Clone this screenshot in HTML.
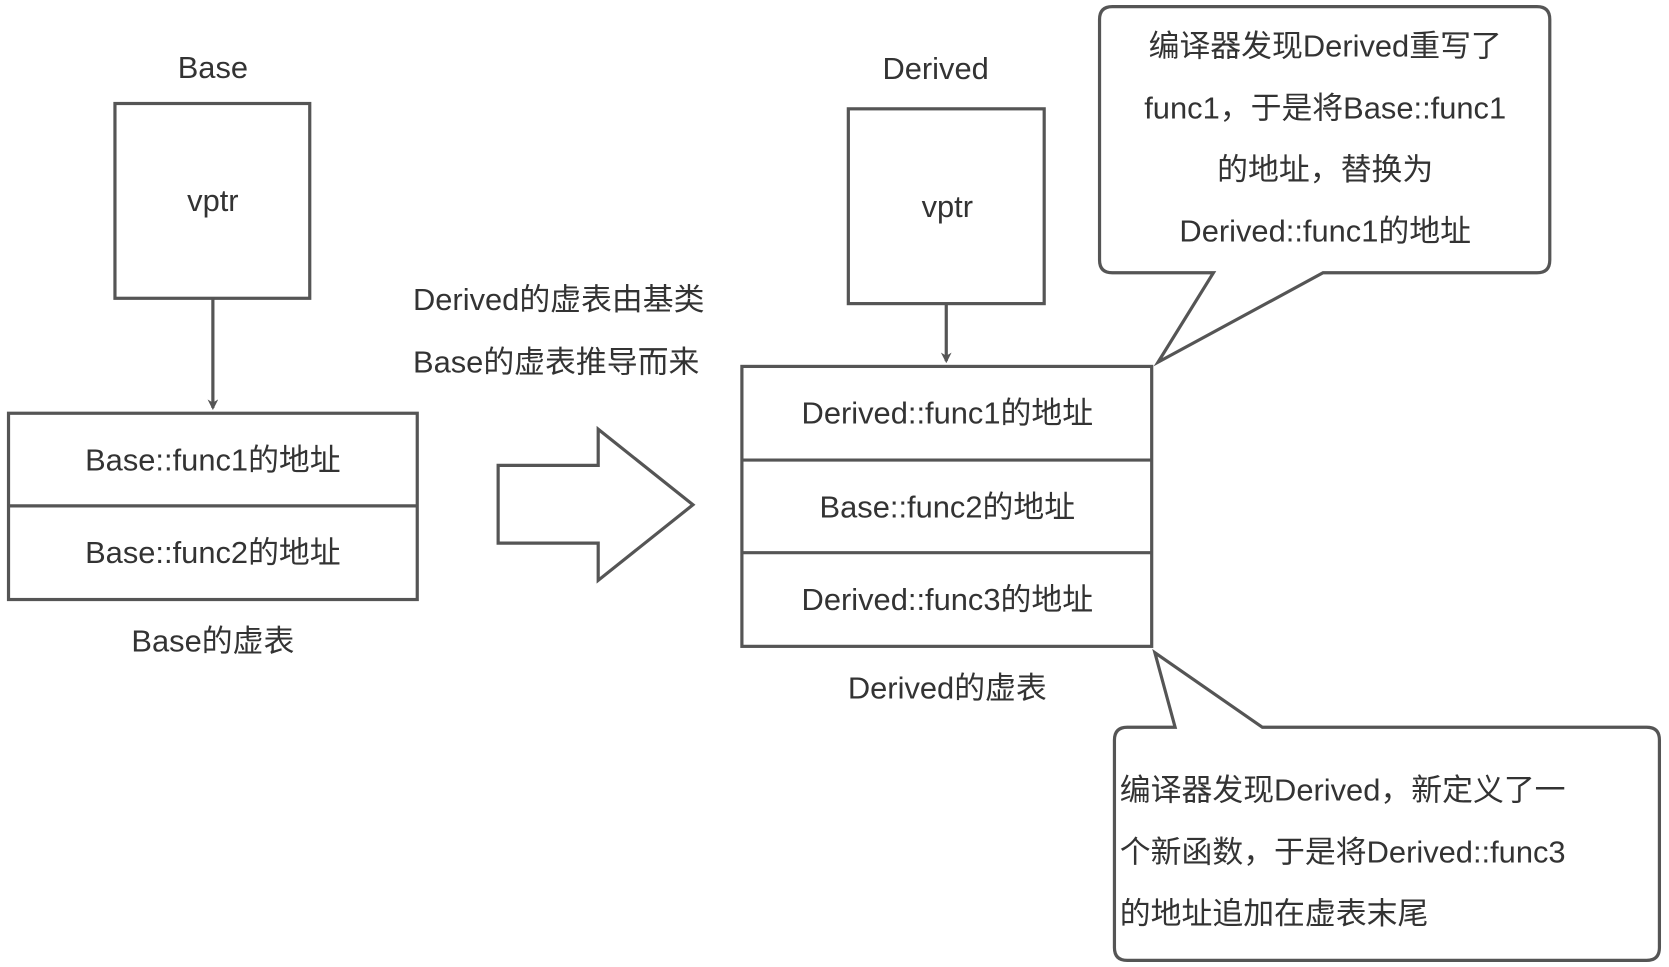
<!DOCTYPE html>
<html><head><meta charset="utf-8"><style>
html,body{margin:0;padding:0;background:#fff;width:1669px;height:967px;overflow:hidden}
svg{display:block}
text{font-family:"Liberation Sans","Noto Sans CJK SC",sans-serif;font-size:29px;fill:#333;dominant-baseline:central}
</style></head><body>
<svg width="1669" height="967" viewBox="0 0 1568 908" xmlns="http://www.w3.org/2000/svg">
<defs><marker id="a" markerWidth="10" markerHeight="10" refX="8" refY="5" orient="auto" markerUnits="userSpaceOnUse"><path d="M0,0 L10,5 L0,10 L3,5 Z" fill="#555"/></marker></defs>
<g fill="none" stroke="#555" stroke-width="3">
<rect x="108" y="97" width="183" height="183"/>
<line x1="200" y1="280" x2="200" y2="383" marker-end="url(#a)"/>
<rect x="8" y="388" width="384" height="175"/>
<line x1="8" y1="475" x2="392" y2="475"/>
<path d="M468,437 L562,437 L562,403 L651,474 L562,545 L562,510 L468,510 Z"/>
<rect x="797" y="102" width="184" height="183"/>
<line x1="889" y1="285" x2="889" y2="339" marker-end="url(#a)"/>
<rect x="697" y="344" width="385" height="263"/>
<line x1="697" y1="432" x2="1082" y2="432"/>
<line x1="697" y1="519" x2="1082" y2="519"/>
<path d="M1045,6 L1444,6 Q1456,6 1456,18 L1456,244 Q1456,256 1444,256 L1243,256 L1088,340 L1140,256 L1045,256 Q1033,256 1033,244 L1033,18 Q1033,6 1045,6 Z"/>
<path d="M1059,683 L1104,683 L1085,613 L1186,683 L1547,683 Q1559,683 1559,695 L1559,890 Q1559,902 1547,902 L1059,902 Q1047,902 1047,890 L1047,695 Q1047,683 1059,683 Z"/>
</g>
<g text-anchor="middle">
<text x="200" y="63">Base</text>
<text x="200" y="188">vptr</text>
<text x="200" y="432">Base::func1的地址</text>
<text x="200" y="519">Base::func2的地址</text>
<text x="200" y="602">Base的虚表</text>
<text x="879" y="64">Derived</text>
<text x="890" y="194">vptr</text>
<text x="890" y="388">Derived::func1的地址</text>
<text x="890" y="476">Base::func2的地址</text>
<text x="890" y="563">Derived::func3的地址</text>
<text x="890" y="646">Derived的虚表</text>
<text x="1245" y="43">编译器发现Derived重写了</text>
<text x="1245" y="101">func1，于是将Base::func1</text>
<text x="1245" y="159">的地址，替换为</text>
<text x="1245" y="217">Derived::func1的地址</text>
</g>
<text x="388" y="281">Derived的虚表由基类</text>
<text x="388" y="340">Base的虚表推导而来</text>
<text x="1052" y="742">编译器发现Derived，新定义了一</text>
<text x="1052" y="800">个新函数，于是将Derived::func3</text>
<text x="1052" y="858">的地址追加在虚表末尾</text>
</svg>
</body></html>
